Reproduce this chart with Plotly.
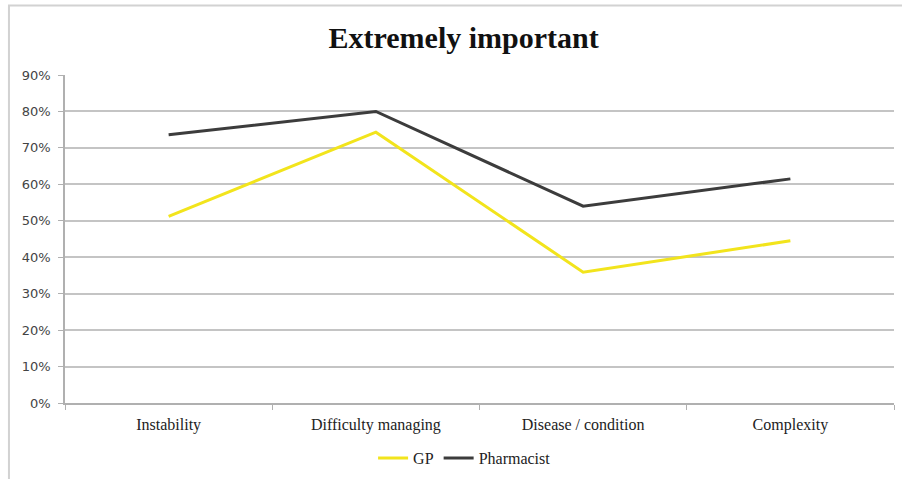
import plotly.graph_objects as go

categories = ["Instability", "Difficulty managing", "Disease / condition", "Complexity"]
gp = [0.512, 0.743, 0.359, 0.445]
pharmacist = [0.736, 0.800, 0.540, 0.615]
y_ticks = [0, 0.1, 0.2, 0.3, 0.4, 0.5, 0.6, 0.7, 0.8, 0.9]

serif = "Liberation Serif, Times New Roman, serif"
sans = "DejaVu Sans, Verdana, sans-serif"

fig = go.Figure()
fig.add_trace(go.Scatter(x=categories, y=gp, name="GP", mode="lines",
                         line=dict(color="#F2E41C", width=3)))
fig.add_trace(go.Scatter(x=categories, y=pharmacist, name="Pharmacist", mode="lines",
                         line=dict(color="#3C3C3C", width=3)))

fig.update_layout(
    width=902, height=479,
    margin=dict(l=65, r=8, t=75, b=76, autoexpand=False),
    paper_bgcolor="white", plot_bgcolor="white",
    title=dict(text="<b>Extremely important</b>", x=0.514, xanchor="center",
               y=0.922, yanchor="middle",
               font=dict(family=serif, size=30, color="#111111")),
    xaxis=dict(type="category", range=[-0.5, 3.5], showline=True, linecolor="#b0b0b0",
               linewidth=1.5, ticks="outside", tickson="boundaries", ticklen=5,
               tickcolor="#b0b0b0", showgrid=False, ticklabelstandoff=6,
               tickfont=dict(family=serif, size=16, color="#222222")),
    yaxis=dict(range=[0, 0.9], tickvals=y_ticks, tickformat=".0%", showline=True,
               linecolor="#b0b0b0", linewidth=1.5, ticks="outside", ticklen=5,
               tickcolor="#b0b0b0", showgrid=True, gridcolor="#c4c4c4", gridwidth=1.5,
               zeroline=False, ticklabelstandoff=5,
               tickfont=dict(family=sans, size=13, color="#444444")),
    legend=dict(orientation="h", x=0.482, xanchor="center", y=-0.168, yanchor="middle",
                font=dict(family=serif, size=16, color="#222222"),
                itemwidth=30, tracegroupgap=0),
    shapes=[dict(type="path", xref="paper", yref="paper",
                 path="M -0.0676 -0.3 L -0.0676 1.212 L 1.05 1.212",
                 line=dict(color="#d2d2d2", width=2))],
)

fig.write_html("out.html")
